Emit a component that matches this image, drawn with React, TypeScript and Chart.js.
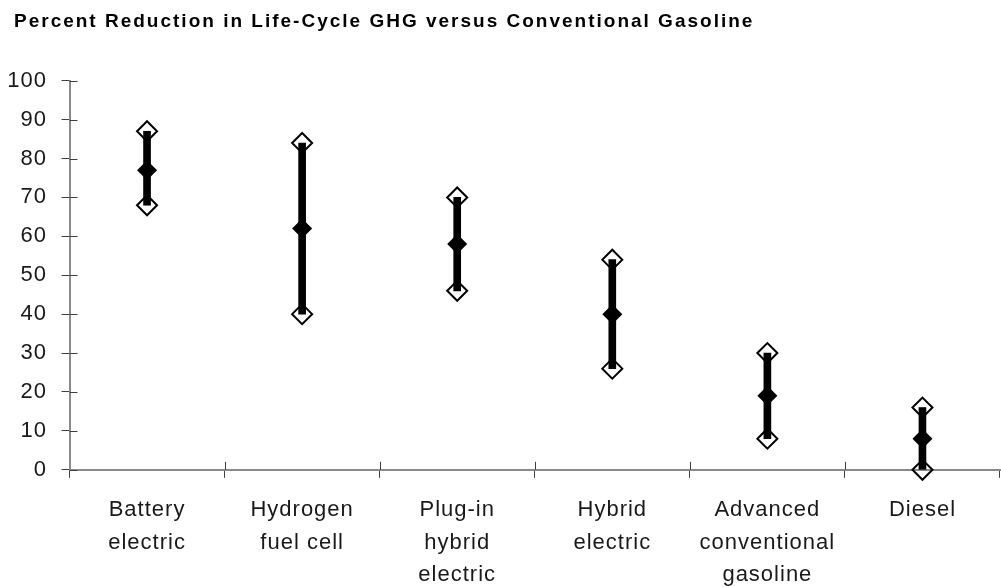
import { useEffect, useRef } from 'react';
import { Chart, registerables } from 'chart.js';

Chart.register(...registerables);

const titleText = 'Percent Reduction in Life-Cycle GHG versus Conventional Gasoline';
const categories: string[][] = [
  ['Battery', 'electric'],
  ['Hydrogen', 'fuel cell'],
  ['Plug-in', 'hybrid', 'electric'],
  ['Hybrid', 'electric'],
  ['Advanced', 'conventional', 'gasoline'],
  ['Diesel'],
];
const lowValues = [68, 40, 46, 26, 8, 0];
const meanValues = [77, 62, 58, 40, 19, 8];
const highValues = [87, 84, 70, 54, 30, 16];
const yMin = 0;
const yMax = 100;
const yStep = 10;

const FONT = '"Liberation Sans", Arial, Helvetica, sans-serif';

const spacingPlugin = {
  id: 'letterSpacing',
  beforeDraw(chart: any) {
    chart.ctx.letterSpacing = '1px';
  },
};

const titlePlugin = {
  id: 'leftTitle',
  afterDraw(chart: any) {
    const ctx = chart.ctx;
    ctx.save();
    ctx.letterSpacing = '2px';
    ctx.font = `bold 19px ${FONT}`;
    ctx.fillStyle = '#000';
    ctx.textAlign = 'left';
    ctx.textBaseline = 'middle';
    ctx.fillText(titleText, 14, 22);
    ctx.restore();
  },
};

const crossTicksPlugin = {
  id: 'crossTicks',
  beforeDatasetsDraw(chart: any) {
    const { ctx, chartArea, scales } = chart;
    const xs = scales.x;
    const ys = scales.y;
    ctx.save();
    ctx.strokeStyle = '#404040';
    ctx.lineWidth = 1;
    ctx.beginPath();
    ys.ticks.forEach((_t: any, i: number) => {
      const py = Math.round(ys.getPixelForTick(i)) + 0.5;
      ctx.moveTo(chartArea.left, py);
      ctx.lineTo(chartArea.left + 8, py);
    });
    for (let i = 0; i < categories.length - 1; i++) {
      const px = Math.round(xs.getPixelForValue(i + 0.5)) + 0.5;
      ctx.moveTo(px, chartArea.bottom);
      ctx.lineTo(px, chartArea.bottom - 8);
    }
    ctx.stroke();
    ctx.restore();
  },
};

export default function App() {
  const ref = useRef<HTMLCanvasElement | null>(null);

  useEffect(() => {
    if (!ref.current) return;
    const chart = new Chart(ref.current, {
      type: 'bar',
      data: {
        labels: categories as any,
        datasets: [
          {
            type: 'line',
            label: 'Mean',
            data: meanValues,
            showLine: false,
            pointStyle: 'rectRot',
            pointRadius: 10,
            pointBorderWidth: 0,
            pointBackgroundColor: '#000',
            pointBorderColor: '#000',
            clip: false,
            order: 0,
          } as any,
          {
            type: 'line',
            label: 'High',
            data: highValues,
            showLine: false,
            pointStyle: 'rectRot',
            pointRadius: 10,
            pointBorderWidth: 2,
            pointBackgroundColor: 'rgba(255,255,255,0)',
            pointBorderColor: '#000',
            clip: false,
            order: 1,
          } as any,
          {
            type: 'line',
            label: 'Low',
            data: lowValues,
            showLine: false,
            pointStyle: 'rectRot',
            pointRadius: 10,
            pointBorderWidth: 2,
            pointBackgroundColor: 'rgba(255,255,255,0)',
            pointBorderColor: '#000',
            clip: false,
            order: 1,
          } as any,
          {
            type: 'bar',
            label: 'Range',
            data: lowValues.map((l, i) => [l, highValues[i]]) as any,
            backgroundColor: '#000',
            borderWidth: 0,
            barThickness: 7,
            clip: false,
            order: 2,
          } as any,
        ],
      },
      options: {
        responsive: false,
        animation: false,
        events: [],
        layout: { padding: { left: 0, right: 1.5, top: 80.7, bottom: 0 } },
        plugins: {
          legend: { display: false },
          tooltip: { enabled: false },
          title: { display: false },
        },
        scales: {
          x: {
            type: 'category',
            offset: true,
            grid: {
              offset: true,
              drawOnChartArea: false,
              drawTicks: true,
              tickLength: 8,
              color: '#404040',
              lineWidth: 1,
            },
            border: { display: true, color: '#8a8a8a', width: 2 },
            ticks: {
              color: '#1a1a1a',
              font: { family: FONT, size: 22, lineHeight: 1.477 },
              padding: 16,
              maxRotation: 0,
              minRotation: 0,
              autoSkip: false,
            },
            afterFit: (s: any) => {
              s.height = 117.2;
            },
          },
          y: {
            min: yMin,
            max: yMax,
            grid: {
              drawOnChartArea: false,
              drawTicks: true,
              tickLength: 8,
              color: '#404040',
              lineWidth: 1,
            },
            border: { display: true, color: '#8a8a8a', width: 2 },
            ticks: {
              stepSize: yStep,
              color: '#1a1a1a',
              font: { family: FONT, size: 22, lineHeight: 1.2 },
              padding: 14.5,
            },
            afterFit: (s: any) => {
              s.width = 69.5;
            },
          },
        },
      } as any,
      plugins: [spacingPlugin, crossTicksPlugin, titlePlugin],
    });
    return () => chart.destroy();
  }, []);

  return (
    <div
      style={{
        position: 'fixed',
        left: 0,
        top: 0,
        width: 1001,
        height: 587,
        overflow: 'hidden',
        background: '#fff',
      }}
    >
      <canvas
        ref={ref}
        width={1012}
        height={587}
        style={{ display: 'block', width: 1012, height: 587 }}
      />
    </div>
  );
}
